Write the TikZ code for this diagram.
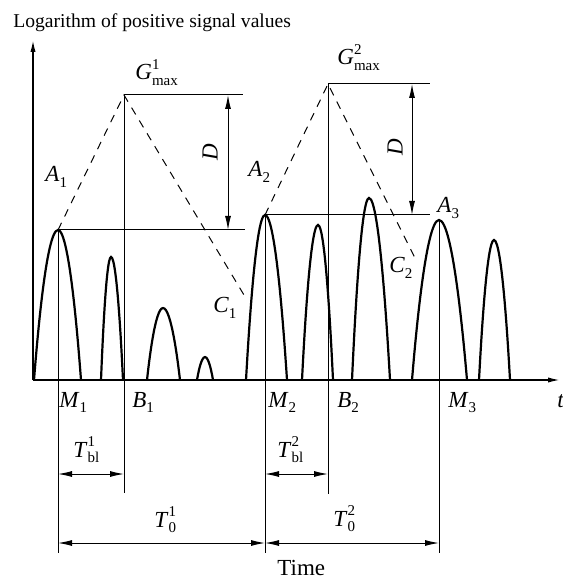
\documentclass[tikz,border=0pt]{standalone}
\usepackage{fontspec}
\setmainfont{Liberation Serif}
\usetikzlibrary{arrows.meta}
\newcommand{\lo}[1]{\raisebox{-0.55ex}{\fontsize{7.5}{8}\selectfont #1}}
\newcommand{\hi}[1]{\raisebox{0.95ex}{\fontsize{7.5}{8}\selectfont #1}}
\newcommand{\hilo}[2]{\rlap{\hi{#1}}\lo{#2}}

\begin{document}
\begin{tikzpicture}[x=0.5pt, y=-0.5pt, font=\fontsize{11.5}{13}\selectfont,
    pulse/.style={line width=1.1pt},
    guide/.style={line width=0.5pt},
    dim/.style={guide, {Latex[length=7pt,width=3pt]}-{Latex[length=7pt,width=3pt]}},
    hint/.style={guide, dash pattern=on 4pt off 3.5pt},
    lbl/.style={anchor=base west, inner sep=0pt}]
  \useasboundingbox (0,0) rectangle (562,581);
  % Axes.
  \coordinate (o) at (33,380);
  \coordinate (ytip) at (33,40);
  \coordinate (xtip) at (560,380);
  \draw[line width=0.75pt, -{Latex[length=6pt,width=2.6pt]}] (o) -- (ytip);
  \draw[line width=0.75pt, -{Latex[length=6pt,width=2.6pt]}] (o) -- (xtip);
  \node[lbl, font=\fontsize{9.8}{12}\selectfont] (title) at (13,28)
    {Logarithm of positive signal values};
  \node[lbl] (t) at (557,407) {\textit{t}};
  % The pulses: foot, peak, foot.
  \foreach \l/\px/\py/\r in {34/58/230/81, 101/111/257/123, 147/163/308/180,
      197/205/357/213, 246/265/215/287, 302/318/225/333, 352/369/198/390,
      412/439/220/467, 479/494/240/510}
    \draw[pulse] (\l,380) parabola bend (\px,\py) (\r,380);
  % Peaks, maxima and the ends of the dashed slopes.
  \coordinate (A1) at (58,230);
  \coordinate (G1) at (124,95);
  \coordinate (C1) at (247,300);
  \coordinate (A2) at (265,215);
  \coordinate (G2) at (328,84);
  \coordinate (C2) at (417,262);
  \coordinate (A3) at (439,220);
  \coordinate (G1e) at (243,95);
  \coordinate (A1e) at (245,230);
  \coordinate (G2e) at (430,84);
  \coordinate (A2e) at (430,215);
  \coordinate (D1) at (228,0);
  \coordinate (D2) at (412,0);
  % Feet of the marker lines, and the levels of the time spans.
  \coordinate (M1b) at (58,553);
  \coordinate (B1b) at (124,493);
  \coordinate (M2b) at (265,553);
  \coordinate (B2b) at (328,494);
  \coordinate (M3b) at (439,553);
  \coordinate (ybl) at (0,474);
  \coordinate (yT0) at (0,543);
  \draw[guide] (A1) -- (M1b);
  \draw[guide] (G1) -- (B1b);
  \draw[guide] (A2) -- (M2b);
  \draw[guide] (G2) -- (B2b);
  \draw[guide] (A3) -- (M3b);
  \draw[guide] (G1) -- (G1e);
  \draw[guide] (A1) -- (A1e);
  \draw[guide] (G2) -- (G2e);
  \draw[guide] (A2) -- (A2e);
  \draw[hint] (A1) -- (G1) -- (C1);
  \draw[hint] (A2) -- (G2) -- (C2);
  % The depth D under each maximum.
  \draw[dim] (D1 |- G1) -- (D1 |- A1);
  \draw[dim] (D2 |- G2) -- (D2 |- A2);
  \node[rotate=90] (D1l) at (210,152) {\textit{D}};
  \node[rotate=90] (D2l) at (395,147) {\textit{D}};
  % The time spans.
  \draw[dim] (M1b |- ybl) -- (B1b |- ybl);
  \draw[dim] (M2b |- ybl) -- (B2b |- ybl);
  \draw[dim] (M1b |- yT0) -- (M2b |- yT0);
  \draw[dim] (M2b |- yT0) -- (M3b |- yT0);
  % Labels.
  \node[lbl] (G1l) at (135,80) {\textit{G}\hilo{1}{max}};
  \node[lbl] (G2l) at (337,65) {\textit{G}\hilo{2}{max}};
  \node[lbl] (A1l) at (45,182) {\textit{A}\lo{1}};
  \node[lbl] (A2l) at (248,177) {\textit{A}\lo{2}};
  \node[lbl] (A3l) at (437,213) {\textit{A}\lo{3}};
  \node[lbl] (C1l) at (213,313) {\textit{C}\lo{1}};
  \node[lbl] (C2l) at (389,273) {\textit{C}\lo{2}};
  \node[lbl] (M1l) at (59,407) {\textit{M}\lo{1}};
  \node[lbl] (B1l) at (132,407) {\textit{B}\lo{1}};
  \node[lbl] (M2l) at (268,407) {\textit{M}\lo{2}};
  \node[lbl] (B2l) at (337,407) {\textit{B}\lo{2}};
  \node[lbl] (M3l) at (448,407) {\textit{M}\lo{3}};
  \node[lbl] (Tbl1) at (73,457) {\textit{T}\hilo{1}{bl}};
  \node[lbl] (Tbl2) at (277,457) {\textit{T}\hilo{2}{bl}};
  \node[lbl] (T01) at (154,527) {\textit{T}\hilo{1}{0}};
  \node[lbl] (T02) at (333,526) {\textit{T}\hilo{2}{0}};
  \node[lbl] (time) at (277,575) {Time};
\end{tikzpicture}
\end{document}
